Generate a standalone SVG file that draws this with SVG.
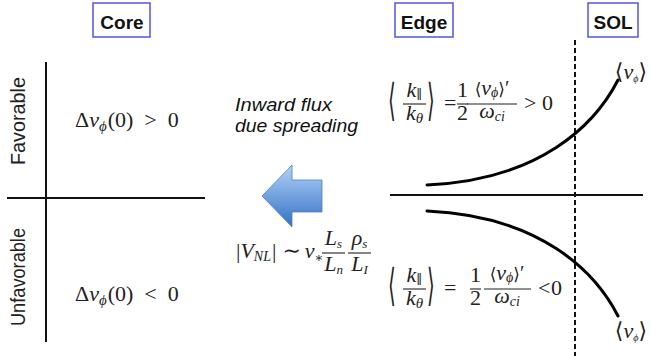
<svg xmlns="http://www.w3.org/2000/svg" width="651" height="356" viewBox="0 0 651 356">
<defs>
<style>
.lbl{font-family:'Liberation Sans',Arial,sans-serif;font-weight:bold;font-size:19px;fill:#111;text-anchor:middle}
.box{fill:#fff;stroke:#5555e6;stroke-width:1.5}
.side{font-family:'Liberation Sans',Arial,sans-serif;font-size:19.5px;fill:#222;text-anchor:middle}
.it{font-family:'Liberation Sans',Arial,sans-serif;font-style:italic;font-size:18px;fill:#111}
.m{font-family:'Liberation Serif','DejaVu Serif','DejaVu Sans',serif;font-size:22px;fill:#222}
.c{text-anchor:middle}
.e{text-anchor:end}
.i{font-style:italic}
.br{font-family:'DejaVu Serif','DejaVu Sans',serif;font-style:normal}
.axis{stroke:#111;stroke-width:2;fill:none}
.bar{stroke:#222;stroke-width:1.1}
.curve{stroke:#000;stroke-width:3;fill:none;stroke-linecap:round}
</style>
<linearGradient id="ag" x1="0" y1="0" x2="0" y2="1">
<stop offset="0" stop-color="#b3d3f6"/>
<stop offset="1" stop-color="#3370c6"/>
</linearGradient>
</defs>
<rect width="651" height="356" fill="#fff"/>

<g id="core-label"><rect class="box" x="93" y="3" width="57" height="34"/><text class="lbl" x="122" y="29">Core</text></g>
<g id="edge-label"><rect class="box" x="395" y="3" width="58" height="34"/><text class="lbl" x="424" y="29">Edge</text></g>
<g id="sol-label"><rect class="box" x="588" y="3" width="50" height="34"/><text class="lbl" x="613" y="29">SOL</text></g>

<g id="side-labels">
<text class="side" transform="translate(25,121) rotate(-90)" textLength="88" lengthAdjust="spacingAndGlyphs">Favorable</text>
<text class="side" transform="translate(25,277) rotate(-90)" textLength="98" lengthAdjust="spacingAndGlyphs">Unfavorable</text>
</g>

<g id="connectors">
<line class="axis" x1="46" y1="62" x2="46" y2="342"/>
<line class="axis" x1="7" y1="198" x2="205" y2="198"/>
<line class="axis" x1="390" y1="195" x2="643" y2="195" stroke-width="1.6"/>
<line x1="575" y1="40" x2="575" y2="356" stroke="#111" stroke-width="2" stroke-dasharray="5,3"/>
<path class="curve" d="M427,185 C540,180 595,125 618,80"/>
<path class="curve" d="M427,211 C540,216 595,271 618,316"/>
</g>

<g id="arrow">
<polygon points="262,196 292,165 292,180 322,180 322,212 292,212 292,227" fill="url(#ag)" stroke="#4a82c8" stroke-width="0.8"/>
</g>

<g id="flux-text">
<text class="it" x="235" y="111" textLength="97" lengthAdjust="spacingAndGlyphs">Inward flux</text>
<text class="it" x="235" y="132" textLength="123" lengthAdjust="spacingAndGlyphs">due spreading</text>
</g>

<g id="core-pos">
<text class="m" x="75" y="127">Δ<tspan class="i">v</tspan><tspan class="i" font-size="15" dy="4">ϕ</tspan><tspan dy="-4" dx="1">(0)</tspan><tspan dx="11">&gt;</tspan><tspan dx="11">0</tspan></text>
</g>

<g id="core-neg">
<text class="m" x="75" y="301">Δ<tspan class="i">v</tspan><tspan class="i" font-size="15" dy="4">ϕ</tspan><tspan dy="-4" dx="1">(0)</tspan><tspan dx="11">&lt;</tspan><tspan dx="11">0</tspan></text>
</g>

<g id="vnl">
<text class="m" x="236" y="258" font-size="20">|<tspan class="i">V</tspan><tspan class="i" font-size="14" dy="3">NL</tspan><tspan dy="-3" dx="1">|</tspan><tspan class="br" dx="6">∼</tspan><tspan class="i" dx="4">v</tspan><tspan class="br" font-size="13" dy="4">∗</tspan></text>
<text class="m i c" x="333.5" y="245" font-size="20">L<tspan font-size="13" dy="3">s</tspan></text>
<line class="bar" x1="322" y1="253" x2="345" y2="253"/>
<text class="m i c" x="333.5" y="271" font-size="20">L<tspan font-size="13" dy="3">n</tspan></text>
<text class="m i c" x="359.5" y="245" font-size="20">ρ<tspan font-size="13" dy="3">s</tspan></text>
<line class="bar" x1="348" y1="253" x2="371" y2="253"/>
<text class="m i c" x="359.5" y="271" font-size="20">L<tspan font-size="13" dy="3">I</tspan></text>
</g>

<g id="edge-pos">
<text class="m br" transform="translate(388,104) scale(0.9,2)" y="5.5" font-size="21">⟨</text>
<text class="m i c" x="414.5" y="97">k<tspan class="br" font-size="13" dy="2">∥</tspan></text>
<line class="bar" x1="403" y1="104" x2="426" y2="104"/>
<text class="m i c" x="414.5" y="120">k<tspan font-size="15" dy="3">θ</tspan></text>
<text class="m br" transform="translate(427,104) scale(0.9,2)" y="5.5" font-size="21">⟩</text>
<text class="m" x="444" y="110">=</text>
<text class="m c" x="462.5" y="97">1</text>
<line class="bar" x1="457" y1="104" x2="468" y2="104"/>
<text class="m c" x="462.5" y="120">2</text>
<text class="m c" x="492" y="95" font-size="20"><tspan class="br" font-size="17">⟨</tspan><tspan class="i">v</tspan><tspan class="i" font-size="14" dy="2">ϕ</tspan><tspan class="br" font-size="17" dy="-2">⟩</tspan><tspan font-size="20">′</tspan></text>
<line class="bar" x1="467" y1="104" x2="517" y2="104"/>
<text class="m i c" x="492" y="118" font-size="20">ω<tspan font-size="14" dy="3">ci</tspan></text>
<text class="m" x="524" y="110">&gt;</text>
<text class="m" x="542" y="110">0</text>
</g>

<g id="edge-neg">
<text class="m br" transform="translate(388,289) scale(0.9,2)" y="5.5" font-size="21">⟨</text>
<text class="m i c" x="414.5" y="282">k<tspan class="br" font-size="13" dy="2">∥</tspan></text>
<line class="bar" x1="403" y1="289" x2="426" y2="289"/>
<text class="m i c" x="414.5" y="305">k<tspan font-size="15" dy="3">θ</tspan></text>
<text class="m br" transform="translate(427,289) scale(0.9,2)" y="5.5" font-size="21">⟩</text>
<text class="m" x="444" y="295">=</text>
<text class="m c" x="475.5" y="282">1</text>
<line class="bar" x1="470" y1="289" x2="481" y2="289"/>
<text class="m c" x="475.5" y="305">2</text>
<text class="m c" x="507" y="280" font-size="20"><tspan class="br" font-size="17">⟨</tspan><tspan class="i">v</tspan><tspan class="i" font-size="14" dy="2">ϕ</tspan><tspan class="br" font-size="17" dy="-2">⟩</tspan><tspan font-size="20">′</tspan></text>
<line class="bar" x1="484" y1="289" x2="531" y2="289"/>
<text class="m i c" x="507" y="303" font-size="20">ω<tspan font-size="14" dy="3">ci</tspan></text>
<text class="m" x="538" y="295">&lt;</text>
<text class="m" x="551" y="295">0</text>
</g>

<g id="vphi-labels">
<text class="m e" x="647" y="79" font-size="14"><tspan class="br">⟨</tspan><tspan class="i">v</tspan><tspan class="i" font-size="10" dy="3">ϕ</tspan><tspan class="br" dy="-3">⟩</tspan></text>
<text class="m e" x="647" y="338" font-size="14"><tspan class="br">⟨</tspan><tspan class="i">v</tspan><tspan class="i" font-size="10" dy="3">ϕ</tspan><tspan class="br" dy="-3">⟩</tspan></text>
</g>
</svg>
